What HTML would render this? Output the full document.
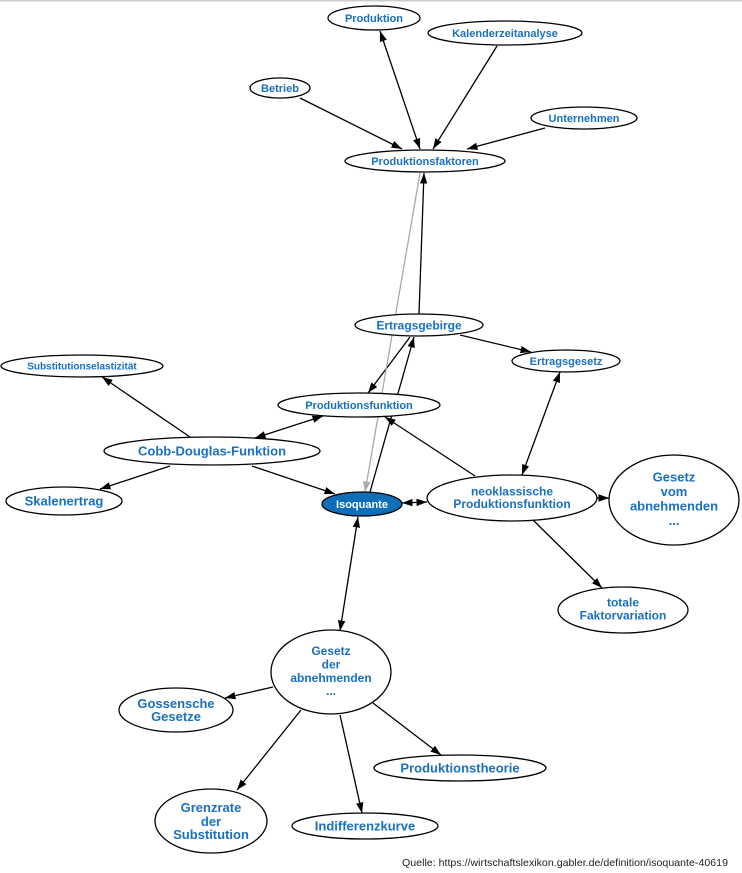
<!DOCTYPE html>
<html>
<head>
<meta charset="utf-8">
<style>
html,body{margin:0;padding:0;background:#fff;}
body{width:742px;height:873px;overflow:hidden;}
svg{display:block;}
text{font-family:"Liberation Sans",Arial,sans-serif;font-weight:bold;fill:#1a70c0;text-anchor:middle;}
</style>
</head>
<body>
<svg width="742" height="873" viewBox="0 0 742 873" xmlns="http://www.w3.org/2000/svg">
<defs>
<marker id="ah" markerUnits="userSpaceOnUse" markerWidth="11" markerHeight="8" refX="10.5" refY="4" orient="auto-start-reverse">
<path d="M0,0.3 L10.5,4 L0,7.7 z" fill="#000"/>
</marker>
<marker id="ahg" markerUnits="userSpaceOnUse" markerWidth="11" markerHeight="8" refX="10.5" refY="4" orient="auto-start-reverse">
<path d="M0,0.3 L10.5,4 L0,7.7 z" fill="#aaa"/>
</marker>
</defs>
<rect x="0" y="0" width="742" height="1.5" fill="#cccccc"/>

<g stroke="#000" stroke-width="1.3" fill="none">
<line x1="380" y1="31" x2="420" y2="149" marker-start="url(#ah)" marker-end="url(#ah)"/>
<line x1="497" y1="46" x2="433" y2="149" marker-end="url(#ah)"/>
<line x1="300" y1="98" x2="402" y2="149" marker-end="url(#ah)"/>
<line x1="545" y1="128" x2="467" y2="149" marker-end="url(#ah)"/>
<line x1="419" y1="314" x2="424" y2="173" marker-end="url(#ah)"/>
<line x1="460" y1="335" x2="531" y2="352" marker-end="url(#ah)"/>
<line x1="410" y1="337" x2="368" y2="393" marker-end="url(#ah)"/>
<line x1="370" y1="492" x2="414" y2="337" marker-end="url(#ah)"/>
<line x1="475" y1="476" x2="385" y2="417" marker-end="url(#ah)"/>
<line x1="560" y1="372" x2="522" y2="475" marker-start="url(#ah)" marker-end="url(#ah)"/>
<line x1="402" y1="503" x2="427" y2="502" marker-start="url(#ah)" marker-end="url(#ah)"/>
<line x1="597" y1="498" x2="609" y2="498" marker-end="url(#ah)"/>
<line x1="533" y1="520" x2="602" y2="588" marker-end="url(#ah)"/>
<line x1="190" y1="437" x2="102" y2="377" marker-end="url(#ah)"/>
<line x1="255" y1="438" x2="323" y2="416" marker-start="url(#ah)" marker-end="url(#ah)"/>
<line x1="170" y1="466" x2="100" y2="489" marker-end="url(#ah)"/>
<line x1="252" y1="466" x2="335" y2="494" marker-end="url(#ah)"/>
<line x1="358" y1="517" x2="340" y2="631" marker-start="url(#ah)" marker-end="url(#ah)"/>
<line x1="273" y1="687" x2="225" y2="698" marker-end="url(#ah)"/>
<line x1="301" y1="710" x2="237" y2="790" marker-end="url(#ah)"/>
<line x1="340" y1="715" x2="362" y2="813" marker-end="url(#ah)"/>
<line x1="373" y1="703" x2="441" y2="755" marker-end="url(#ah)"/>
</g>
<line x1="420" y1="173" x2="365" y2="492" stroke="#aaa" stroke-width="1.3" marker-end="url(#ahg)"/>

<g stroke="#000" stroke-width="1.3" fill="#fff">
<ellipse cx="374" cy="18" rx="46" ry="12"/>
<ellipse cx="505" cy="33" rx="77" ry="12"/>
<ellipse cx="280" cy="88" rx="30" ry="10"/>
<ellipse cx="584" cy="118" rx="53" ry="11"/>
<ellipse cx="425" cy="161" rx="80" ry="11"/>
<ellipse cx="419" cy="325" rx="64" ry="11"/>
<ellipse cx="566" cy="361" rx="54" ry="11"/>
<ellipse cx="82" cy="366" rx="81" ry="11"/>
<ellipse cx="359" cy="405" rx="81" ry="12"/>
<ellipse cx="212" cy="451" rx="108" ry="14"/>
<ellipse cx="64" cy="501" rx="58" ry="14"/>
<ellipse cx="362" cy="504" rx="40" ry="12" fill="#0e6eb8"/>
<ellipse cx="512" cy="498" rx="85" ry="23"/>
<ellipse cx="674" cy="500" rx="65" ry="45"/>
<ellipse cx="331" cy="672" rx="60" ry="42"/>
<ellipse cx="176" cy="710" rx="57" ry="22"/>
<ellipse cx="211" cy="821" rx="56" ry="32"/>
<ellipse cx="365" cy="826" rx="73" ry="13"/>
<ellipse cx="460" cy="768" rx="86" ry="13"/>
<ellipse cx="623" cy="610" rx="65" ry="23"/>
</g>

<text x="374" y="22" font-size="11">Produktion</text>
<text x="505" y="37" font-size="11">Kalenderzeitanalyse</text>
<text x="280" y="92" font-size="11">Betrieb</text>
<text x="584" y="122" font-size="11">Unternehmen</text>
<text x="425" y="165" font-size="11">Produktionsfaktoren</text>
<text x="419" y="329.5" font-size="12">Ertragsgebirge</text>
<text x="566" y="365" font-size="11">Ertragsgesetz</text>
<text x="82" y="369.5" font-size="10">Substitutionselastizität</text>
<text x="359" y="409" font-size="11">Produktionsfunktion</text>
<text x="212" y="455.7" font-size="13">Cobb-Douglas-Funktion</text>
<text x="64" y="505.7" font-size="13">Skalenertrag</text>
<text x="362" y="508" font-size="11" style="fill:#fff">Isoquante</text>
<text x="512" y="495.5" font-size="12">neoklassische</text>
<text x="512" y="508" font-size="12">Produktionsfunktion</text>
<text x="674" y="481.5" font-size="13">Gesetz</text>
<text x="674" y="496" font-size="13">vom</text>
<text x="674" y="510.5" font-size="13">abnehmenden</text>
<text x="674" y="525" font-size="13">...</text>
<text x="331" y="655" font-size="12">Gesetz</text>
<text x="331" y="668.5" font-size="12">der</text>
<text x="331" y="682" font-size="12">abnehmenden</text>
<text x="331" y="695" font-size="12">...</text>
<text x="176" y="708" font-size="13">Gossensche</text>
<text x="176" y="721" font-size="13">Gesetze</text>
<text x="211" y="812" font-size="13">Grenzrate</text>
<text x="211" y="826" font-size="13">der</text>
<text x="211" y="839" font-size="13">Substitution</text>
<text x="365" y="830.7" font-size="13">Indifferenzkurve</text>
<text x="460" y="772.7" font-size="13">Produktionstheorie</text>
<text x="623" y="606.5" font-size="12">totale</text>
<text x="623" y="619.5" font-size="12">Faktorvariation</text>

<text x="402" y="866" font-size="10.5" textLength="326" lengthAdjust="spacingAndGlyphs" style="font-weight:normal;fill:#222;text-anchor:start">Quelle: https://wirtschaftslexikon.gabler.de/definition/isoquante-40619</text>
</svg>
</body>
</html>
